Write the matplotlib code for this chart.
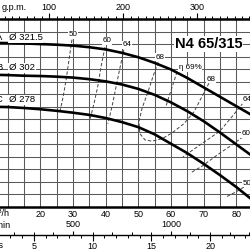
import numpy as np
import matplotlib.pyplot as plt

plt.rcParams['font.family'] = ['Liberation Sans', 'DejaVu Sans']

# head curves, Q in m3/h, H in m
q_curve = [5, 10, 15, 20, 25, 30, 35, 40, 45, 50, 55, 60, 65, 70, 75, 80, 85]
h_a = [30.2, 30.15, 30.1, 30.0, 29.9, 29.75, 29.5, 29.15, 28.6, 27.9, 27.0, 25.95, 24.6, 23.1, 21.6, 20.1, 18.6]
h_b = [25.1, 25.05, 24.95, 24.9, 24.8, 24.65, 24.4, 24.05, 23.55, 22.85, 21.9, 20.7, 19.3, 17.7, 15.9, 14.0, 12.1]
h_c = [20.0, 19.95, 19.8, 19.6, 19.35, 19.05, 18.7, 18.2, 17.55, 16.75, 15.6, 14.1, 12.6, 10.9, 9.1, 7.2, 5.1]
curve_names = ['A', 'B', 'C']
curve_diam = ['Ø 321.5', 'Ø 302', 'Ø 278']

# iso-efficiency lines
eff_50l_q = [29.7, 28.8, 27.9, 27.0, 26.0]
eff_50l_h = [30.7, 27.5, 24.3, 21.6, 19.2]
eff_60l_q = [39.8, 38.6, 37.7, 36.5, 35.2]
eff_60l_h = [29.5, 26.4, 23.5, 20.6, 17.9]
eff_64l_q = [45.6, 44.4, 43.2, 42.0, 40.7]
eff_64l_h = [29.1, 26.2, 23.2, 20.1, 17.3]
eff_68_q = [56.1, 54.5, 53.0, 51.2, 50.2, 50.5, 52.1, 54.2, 57.3, 60.3, 64.0, 67.1, 69.5, 71.7]
eff_68_h = [27.1, 24.8, 22.4, 19.8, 17.6, 15.7, 14.7, 14.5, 14.9, 15.8, 17.3, 19.2, 21.6, 23.8]
eff_69_q = [61.9, 60.6, 59.4, 58.5]
eff_69_h = [25.6, 23.5, 21.6, 20.1]
eff_64r_q = [82.1, 78.7, 75.0, 68.9, 63.7]
eff_64r_h = [20.6, 18.4, 16.1, 13.9, 12.0]
eff_60r_q = [82.1, 78.7, 75.0, 69.5, 65.9]
eff_60r_h = [15.2, 13.9, 12.6, 10.5, 9.4]
eff_50r_q = [82.4, 79.9, 76.9]
eff_50r_h = [7.2, 6.4, 5.6]

eff_labels = ['50', '60', '64', '68', 'η 69%', '68', '64', '60', '50']
eff_label_q = [30.0, 40.4, 46.6, 56.7, 65.9, 72.3, 83.4, 83.1, 83.4]
eff_label_h = [31.5, 30.5, 29.9, 27.9, 26.2, 24.4, 21.1, 15.7, 7.8]

q_ticks = [10, 20, 30, 40, 50, 60, 70, 80]
q_ticklabels = ['', '20', '30', '40', '50', '60', '70', '80']

qmin, qmax = 7.66, 84.23

fig = plt.figure(figsize=(2.5, 2.5), dpi=100)
ax = fig.add_axes([0, 0.172, 1, 0.752])
ax.set_xlim(qmin, qmax)
ax.set_ylim(4, 34)
ax.set_xticks(q_ticks)
ax.set_xticklabels(q_ticklabels)
ax.set_xticks(np.arange(15, 85, 10), minor=True)
ax.set_yticks(np.arange(4, 35, 2))
ax.tick_params(axis='y', left=False, labelleft=False)
ax.tick_params(axis='x', which='both', length=0, labelsize=6.5, pad=2)
ax.grid(which='both', color='#5a5a5a', lw=0.75)
ax.set_axisbelow(True)
for s in ['left', 'right']:
    ax.spines[s].set_visible(False)
for s in ['top', 'bottom']:
    ax.spines[s].set_linewidth(1.8)

dash = (0, (3.5, 2))
for q, h in [(eff_50l_q, eff_50l_h), (eff_60l_q, eff_60l_h), (eff_64l_q, eff_64l_h),
             (eff_68_q, eff_68_h), (eff_69_q, eff_69_h), (eff_64r_q, eff_64r_h),
             (eff_60r_q, eff_60r_h), (eff_50r_q, eff_50r_h)]:
    ax.plot(q, h, color='#444444', lw=0.7, ls=dash, zorder=2)

for h in [h_a, h_b, h_c]:
    ax.plot(q_curve, h, color='black', lw=1.9, zorder=3)

for lab, q, h in zip(eff_labels, eff_label_q, eff_label_h):
    ax.text(q, h, lab, fontsize=5.8, ha='center', va='center', zorder=4,
            bbox=dict(facecolor='white', edgecolor='none', pad=0.3))

for name, d, h in zip(curve_names, curve_diam, [31.0, 26.2, 21.1]):
    ax.text(7.35, h, name, fontsize=6.8, ha='center', va='center', clip_on=False, zorder=4)
    ax.text(10.4, h, d, fontsize=6.8, ha='left', va='center', zorder=4,
            bbox=dict(facecolor='white', edgecolor='none', pad=0.5))

ax.text(71.5, 30.0, 'N4 65/315', fontsize=10.5, fontweight='bold', ha='center', va='center',
        zorder=4, bbox=dict(facecolor='white', edgecolor='none', pad=0.5))

# top g.p.m. scale
gpm = ax.secondary_xaxis('top', functions=(lambda q: q * 4.40287, lambda g: g / 4.40287))
gpm.set_xticks([100, 200, 300])
gpm.set_xticks(np.arange(40, 380, 10), minor=True)
gpm.tick_params(which='major', length=4, width=0.8, labelsize=6.5, pad=1)
gpm.tick_params(which='minor', length=2.5, width=0.7)
gpm.spines['top'].set_visible(False)
fig.text(2 / 250, 1 - 8 / 250, 'g.p.m.', fontsize=6.5, ha='left', va='center')

# bottom l/min and l/s scale
ax_ls = fig.add_axes([0, 15 / 250, 1, 1e-4])
ax_ls.set_xlim(qmin, qmax)
ax_ls.set_yticks([])
ax_ls.set_xticks([])
for s in ['left', 'right', 'top']:
    ax_ls.spines[s].set_visible(False)
ax_ls.spines['bottom'].set_linewidth(1.0)
ls = ax_ls.secondary_xaxis('bottom', functions=(lambda q: q / 3.6, lambda v: v * 3.6))
ls.set_xticks([5, 10, 15, 20])
ls.set_xticks(np.arange(1, 25, 1), minor=True)
ls.tick_params(which='major', length=4, width=0.8, labelsize=6.5, pad=1)
ls.tick_params(which='minor', length=2, width=0.7)
ls.spines['bottom'].set_visible(False)
lm = ax_ls.secondary_xaxis('top', functions=(lambda q: q * 1000 / 60, lambda v: v * 0.06))
lm.set_xticks([500, 1000])
lm.set_xticks(np.arange(100, 1500, 100), minor=True)
lm.tick_params(which='major', length=3, width=0.8, labelsize=6.5, pad=1)
lm.tick_params(which='minor', length=2, width=0.7)
lm.spines['top'].set_visible(False)

fig.text(9 / 250, 1 - 214 / 250, 'm³/h', fontsize=6.5, ha='right', va='center')
fig.text(10 / 250, 1 - 225 / 250, 'l/min', fontsize=6.5, ha='right', va='center')
fig.text(3 / 250, 1 - 245 / 250, 'l/s', fontsize=6.5, ha='right', va='center')

fig.savefig('out.png', dpi=100)
